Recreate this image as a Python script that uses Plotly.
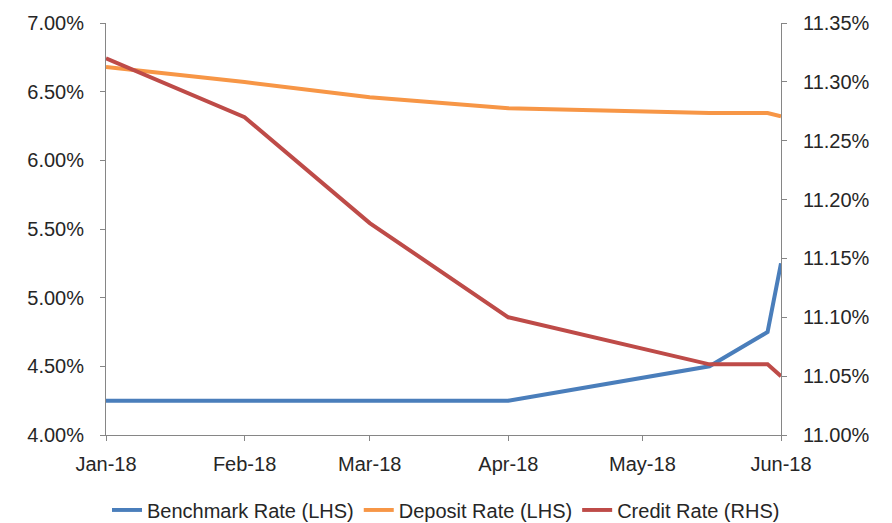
import plotly.graph_objects as go

dates = ["2018-01-01", "2018-02-01", "2018-03-01", "2018-04-01", "2018-05-16", "2018-05-29", "2018-06-01"]
benchmark = [4.25, 4.25, 4.25, 4.25, 4.50, 4.75, 5.25]
deposit = [6.68, 6.57, 6.46, 6.38, 6.345, 6.345, 6.32]
credit = [11.32, 11.27, 11.18, 11.10, 11.06, 11.06, 11.05]

left_ticks = [4.0, 4.5, 5.0, 5.5, 6.0, 6.5, 7.0]
right_ticks = [11.00, 11.05, 11.10, 11.15, 11.20, 11.25, 11.30, 11.35]
x_ticks = ["2018-01-01", "2018-02-01", "2018-03-01", "2018-04-01", "2018-05-01", "2018-06-01"]
x_labels = ["Jan-18", "Feb-18", "Mar-18", "Apr-18", "May-18", "Jun-18"]

fig = go.Figure()
fig.add_trace(go.Scatter(x=dates, y=benchmark, mode="lines", name="Benchmark Rate (LHS)",
                         line=dict(color="#4A7EBB", width=4)))
fig.add_trace(go.Scatter(x=dates, y=deposit, mode="lines", name="Deposit Rate (LHS)",
                         line=dict(color="#F79646", width=4)))
fig.add_trace(go.Scatter(x=dates, y=credit, mode="lines", name="Credit Rate (RHS)",
                         line=dict(color="#BE4B48", width=4), yaxis="y2"))

axis_color = "#868686"
font_color = "#262626"
family = "Liberation Sans, Arial, sans-serif"

fig.update_layout(
    width=892, height=523,
    margin=dict(l=106, r=111, t=23, b=88, autoexpand=False),
    paper_bgcolor="white", plot_bgcolor="white",
    font=dict(family=family, size=18, color=font_color),
    showlegend=True,
    legend=dict(orientation="h", x=0.5, xref="container", xanchor="center",
                y=0.025, yref="container", yanchor="middle",
                font=dict(size=20, family=family, color=font_color)),
    xaxis=dict(type="date", range=["2018-01-01", "2018-06-01"], tickvals=x_ticks, ticktext=x_labels,
               showgrid=False, zeroline=False, showline=True, linecolor=axis_color, linewidth=1,
               ticks="outside", ticklen=5, tickcolor=axis_color, ticklabelstandoff=6,
               automargin=False, tickfont=dict(size=20, color=font_color)),
    yaxis=dict(range=[4, 7], tickvals=left_ticks, ticktext=[f"{v:.2f}%" for v in left_ticks],
               showgrid=False, zeroline=False, showline=True, linecolor=axis_color, linewidth=1,
               ticks="outside", ticklen=5, tickcolor=axis_color, ticklabelstandoff=12,
               automargin=False, tickfont=dict(size=20, color=font_color)),
    yaxis2=dict(range=[11, 11.35], tickvals=right_ticks, ticktext=[f"{v:.2f}%" for v in right_ticks],
                overlaying="y", side="right", showgrid=False, zeroline=False, showline=True,
                linecolor=axis_color, linewidth=1, ticks="outside", ticklen=5, tickcolor=axis_color,
                ticklabelstandoff=12, automargin=False, tickfont=dict(size=20, color=font_color)),
)

fig.write_html("out.html")
